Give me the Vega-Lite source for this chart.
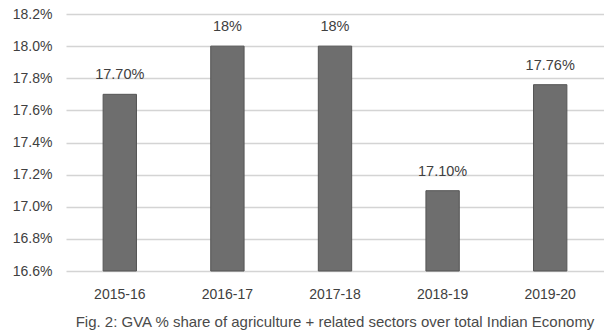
{
  "$schema": "https://vega.github.io/schema/vega-lite/v6.json",
  "width": 538,
  "height": 257,
  "autosize": {"type": "none"},
  "padding": {"left": 66, "top": 14, "right": 0, "bottom": 62},
  "background": "white",
  "config": {
    "view": {"stroke": null},
    "font": "Liberation Sans"
  },
  "title": {
    "text": "Fig. 2: GVA % share of agriculture + related sectors over total Indian Economy",
    "orient": "bottom",
    "anchor": "middle",
    "fontSize": 15,
    "fontWeight": "normal",
    "color": "#4a4a4a",
    "offset": 14
  },
  "data": {
    "values": [
      {"year": "2015-16", "share": 17.70, "label": "17.70%"},
      {"year": "2016-17", "share": 18.00, "label": "18%"},
      {"year": "2017-18", "share": 18.00, "label": "18%"},
      {"year": "2018-19", "share": 17.10, "label": "17.10%"},
      {"year": "2019-20", "share": 17.76, "label": "17.76%"}
    ]
  },
  "encoding": {
    "x": {
      "field": "year",
      "type": "nominal",
      "sort": null,
      "scale": {"paddingInner": 0.69, "paddingOuter": 0.345},
      "axis": {
        "title": null,
        "labelAngle": 0,
        "domain": false,
        "ticks": false,
        "labelFontSize": 14,
        "labelColor": "#404040",
        "labelPadding": 16
      }
    },
    "y": {
      "field": "share",
      "type": "quantitative",
      "scale": {"domain": [16.6, 18.2], "zero": false, "nice": false},
      "axis": {
        "title": null,
        "values": [16.6, 16.8, 17.0, 17.2, 17.4, 17.6, 17.8, 18.0, 18.2],
        "labelExpr": "format(datum.value, '.1f') + '%'",
        "labelOverlap": false,
        "domain": false,
        "ticks": false,
        "gridColor": "#d4d4d4",
        "gridWidth": 1.5,
        "labelFontSize": 14,
        "labelColor": "#404040",
        "labelPadding": 14
      }
    }
  },
  "layer": [
    {
      "mark": {"type": "bar", "color": "#6e6e6e", "stroke": "#555555", "strokeWidth": 1},
      "encoding": {
        "y2": {"datum": 16.6}
      }
    },
    {
      "mark": {"type": "text", "dy": -19, "fontSize": 14.5, "color": "#404040"},
      "encoding": {
        "text": {"field": "label"}
      }
    }
  ]
}
